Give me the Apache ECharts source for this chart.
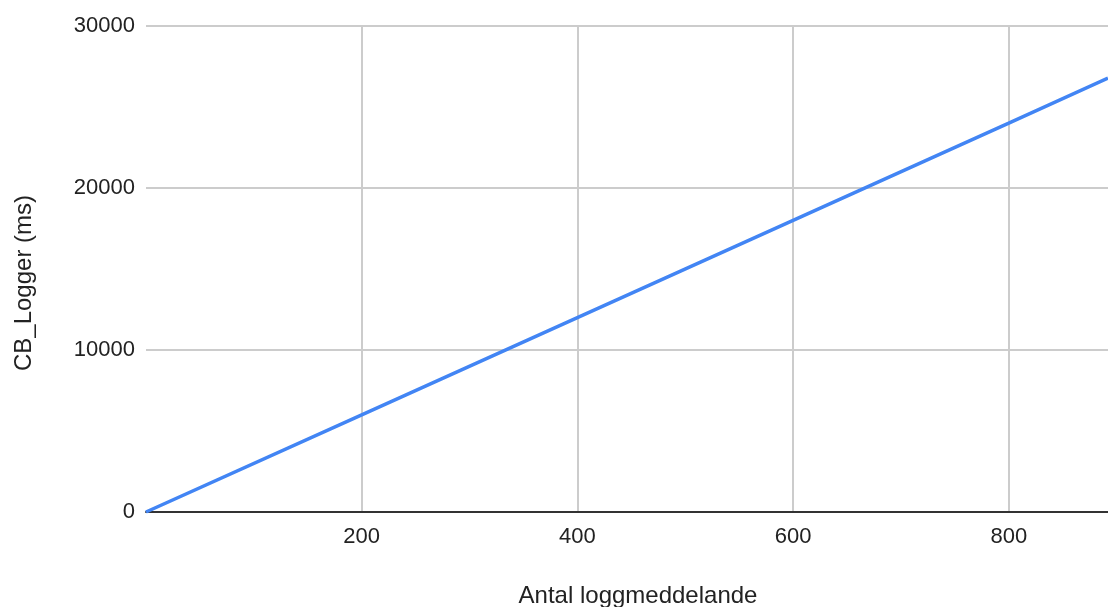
<!DOCTYPE html>
<html>
<head>
<meta charset="utf-8">
<script src="https://cdn.jsdelivr.net/npm/echarts@6/dist/echarts.min.js"></script>
<style>html,body{margin:0;padding:0;background:#fff}#c{width:1108px;height:607px}</style>
</head>
<body>
<div id="c"></div>
<script>
const xValues = [0, 200, 400, 600, 800, 892];
const yValues = [0, 6000, 12000, 18000, 24000, 26780];
const xTitle = 'Antal loggmeddelande';
const yTitle = 'CB_Logger (ms)';

const chart = echarts.init(document.getElementById('c'), null, {renderer: 'canvas'});
const font = '"Liberation Sans", Arial, sans-serif';
chart.setOption({
  animation: false,
  backgroundColor: '#fff',
  grid: {left: 146, right: 0, top: 26, bottom: 95, containLabel: false, outerBoundsMode: 'none'},
  xAxis: {
    type: 'value', min: 0, max: 892, interval: 200,
    name: xTitle, nameLocation: 'middle', nameGap: 72,
    nameTextStyle: {fontFamily: font, fontSize: 24, color: '#222', padding: [0, 0, 0, 22]},
    axisLine: {show: true, lineStyle: {color: '#333', width: 2}},
    axisTick: {show: false},
    axisLabel: {fontFamily: font, fontSize: 22, color: '#222', margin: 14, showMinLabel: false, showMaxLabel: false,
      formatter: v => String(v)},
    splitLine: {show: true, showMinLine: false, showMaxLine: false, lineStyle: {color: '#ccc', width: 2}}
  },
  yAxis: {
    type: 'value', min: 0, max: 30000, interval: 10000,
    name: yTitle, nameLocation: 'middle', nameGap: 110, nameRotate: 90,
    nameTextStyle: {fontFamily: font, fontSize: 24, color: '#222', padding: [0, 28, 0, 0]},
    axisLine: {show: false},
    axisTick: {show: false},
    axisLabel: {fontFamily: font, fontSize: 22, color: '#222', margin: 11, formatter: v => String(v)},
    splitLine: {show: true, lineStyle: {color: '#ccc', width: 2}}
  },
  series: [{
    type: 'line',
    data: xValues.map((x, i) => [x, yValues[i]]),
    showSymbol: false,
    lineStyle: {color: '#4285F4', width: 3.5},
    itemStyle: {color: '#4285F4'}
  }]
});
</script>
</body>
</html>
